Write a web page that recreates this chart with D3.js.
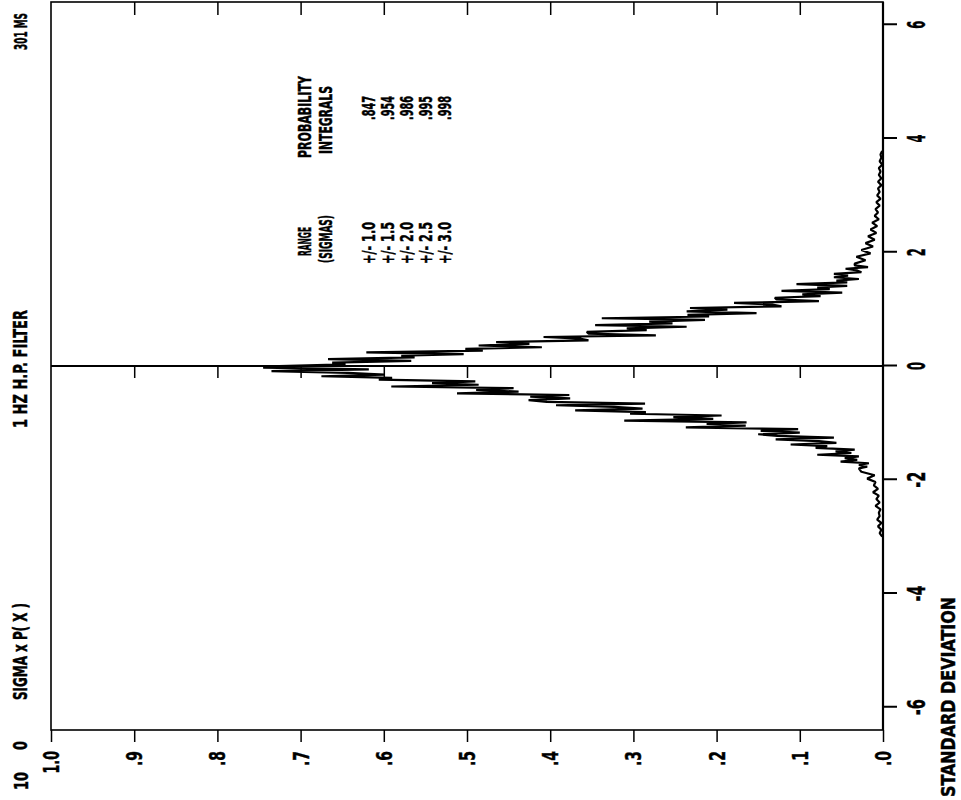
<!DOCTYPE html>
<html><head><meta charset="utf-8">
<script src="https://cdn.jsdelivr.net/npm/d3@7"></script>
<style>
body{margin:0;background:#fff}
text{font-family:"Liberation Sans Narrow","DejaVu Sans Condensed","Liberation Sans",sans-serif;font-weight:bold;fill:#000;stroke:#000;stroke-width:0.45}
</style></head>
<body><svg id="c" width="961" height="800"></svg>
<script>
// ---- data ----
const sigmaTicks = [-6, -4, -2, 0, 2, 4, 6];
const valueTicks = [0, 0.1, 0.2, 0.3, 0.4, 0.5, 0.6, 0.7, 0.8, 0.9, 1.0];
const valueTickLabels = [".0", ".1", ".2", ".3", ".4", ".5", ".6", ".7", ".8", ".9", "1.0"];
const rangeLabels = ["+/- 1.0", "+/- 1.5", "+/- 2.0", "+/- 2.5", "+/- 3.0"];
const integralLabels = [".847", ".954", ".986", ".995", ".998"];
const sigma = [
 -3.00,-2.94,-2.88,-2.82,-2.76,-2.70,-2.64,-2.58,-2.52,-2.46,-2.40,-2.34,-2.28,-2.22,-2.16,-2.10,-2.04,-1.98,-1.92,-1.86,
 -1.80,-1.77,-1.74,-1.71,-1.68,-1.65,-1.62,-1.59,-1.56,-1.53,-1.50,-1.47,-1.44,-1.41,-1.38,-1.35,-1.32,-1.29,-1.26,-1.23,
 -1.20,-1.17,-1.14,-1.11,-1.08,-1.05,-1.02,-0.99,-0.96,-0.93,-0.90,-0.87,-0.84,-0.81,-0.78,-0.75,-0.72,-0.69,-0.66,-0.63,
 -0.60,-0.57,-0.54,-0.51,-0.48,-0.45,-0.42,-0.39,-0.36,-0.33,-0.30,-0.27,-0.24,-0.21,-0.18,-0.15,-0.12,-0.09,-0.06,-0.03,
 0.00,0.03,0.06,0.09,0.12,0.15,0.18,0.21,0.24,0.27,0.30,0.33,0.36,0.39,0.42,0.45,0.48,0.51,0.54,0.57,
 0.60,0.63,0.66,0.69,0.72,0.75,0.78,0.81,0.84,0.87,0.90,0.93,0.96,0.99,1.02,1.05,1.08,1.11,1.14,1.17,
 1.20,1.23,1.26,1.29,1.32,1.35,1.38,1.41,1.44,1.47,1.50,1.53,1.56,1.59,1.62,1.65,1.68,1.71,1.74,1.77,1.80,
 1.86,1.92,1.98,2.04,2.10,2.16,2.22,2.28,2.34,2.40,2.46,2.52,2.58,2.64,2.70,2.76,2.82,2.88,2.94,3.00,
 3.06,3.12,3.18,3.24,3.30,3.36,3.42,3.48,3.54,3.60,3.66,3.72,3.78];
const density = [
 0.001,0.004,0.002,0.006,0.002,0.007,0.004,0.005,0.003,0.009,0.004,0.008,0.005,0.012,0.006,0.011,0.009,0.019,0.010,0.026,
 0.029,0.019,0.029,0.017,0.051,0.031,0.046,0.029,0.079,0.038,0.057,0.034,0.081,0.067,0.111,0.056,0.077,0.129,0.059,0.127,
 0.150,0.100,0.147,0.102,0.237,0.165,0.212,0.164,0.311,0.204,0.252,0.194,0.304,0.285,0.370,0.289,0.323,0.393,0.286,0.404,
 0.426,0.376,0.424,0.377,0.512,0.438,0.489,0.444,0.591,0.486,0.542,0.490,0.606,0.590,0.675,0.599,0.643,0.735,0.618,0.745,
 0.726,0.646,0.662,0.567,0.667,0.563,0.579,0.504,0.621,0.481,0.502,0.410,0.486,0.425,0.465,0.354,0.363,0.408,0.273,0.354,
 0.356,0.284,0.308,0.236,0.346,0.253,0.281,0.214,0.338,0.209,0.235,0.152,0.236,0.187,0.232,0.122,0.133,0.179,0.077,0.128,
 0.130,0.075,0.097,0.049,0.122,0.064,0.079,0.043,0.104,0.043,0.056,0.029,0.059,0.042,0.059,0.026,0.031,0.045,0.018,0.034,0.034,
 0.021,0.032,0.015,0.026,0.012,0.021,0.010,0.018,0.008,0.015,0.007,0.013,0.005,0.010,0.006,0.009,0.004,0.008,0.003,0.007,
 0.004,0.006,0.002,0.006,0.002,0.005,0.003,0.005,0.001,0.004,0.002,0.003,0.001];

// ---- layout ----
const svg = d3.select("#c");
const W = 728, H = 832;           // unrotated plot frame
const g = svg.append("g").attr("transform", "translate(51,730) rotate(-90)");
const x = d3.scaleLinear().domain([-6.4, 6.4]).range([0, W]);
const y = d3.scaleLinear().domain([0, 1]).range([H, 0]);
const ink = "#000";

// frame
g.append("rect").attr("x", 0).attr("y", 0).attr("width", W).attr("height", H)
  .attr("fill", "none").attr("stroke", ink).attr("stroke-width", 1.6);
g.append("line").attr("x1", 0).attr("x2", W).attr("y1", H).attr("y2", H)
  .attr("stroke", ink).attr("stroke-width", 2.2);

// sigma axis (right side of picture)
const ax = g.append("g").attr("transform", `translate(0,${H})`)
  .call(d3.axisBottom(x).tickValues(sigmaTicks).tickSize(14).tickSizeOuter(0).tickFormat(d => ""));
ax.select(".domain").remove();
ax.selectAll("line").attr("stroke", ink).attr("stroke-width", 2);

// value axis (bottom of picture)
const ay = g.append("g")
  .call(d3.axisLeft(y).tickValues(valueTicks).tickSize(12).tickSizeOuter(0).tickFormat(d => ""));
ay.select(".domain").remove();
ay.selectAll("line").attr("stroke", ink).attr("stroke-width", 1.5);

// inner ticks on the far edge (top of picture)
const ar = g.append("g").attr("transform", `translate(${W},0)`)
  .call(d3.axisLeft(y).tickValues(valueTicks.slice(1, 10)).tickSize(13).tickSizeOuter(0).tickFormat(d => ""));
ar.select(".domain").remove();
ar.selectAll("line").attr("stroke", ink).attr("stroke-width", 1.5);

// zero line with ticks
g.append("line").attr("x1", x(0)).attr("x2", x(0)).attr("y1", 0).attr("y2", H)
  .attr("stroke", ink).attr("stroke-width", 2);
const az = g.append("g").attr("transform", `translate(${x(0)},0)`)
  .call(d3.axisLeft(y).tickValues(valueTicks.slice(1, 10)).tickSize(12).tickSizeOuter(0).tickFormat(d => ""));
az.select(".domain").remove();
az.selectAll("line").attr("stroke", ink).attr("stroke-width", 1.5);

// data
const pts = sigma.map((s, i) => [s, density[i]]);
g.append("path").datum(pts)
  .attr("d", d3.line().x(d => x(d[0])).y(d => y(d[1])))
  .attr("fill", "none").attr("stroke", ink).attr("stroke-width", 2.2).attr("stroke-linejoin", "bevel");

// text helper in unrotated frame: (ux, uy baseline), font size, length
function txt(s, ux, uy, size, len, anchor) {
  const t = g.append("text").attr("x", ux).attr("y", uy).attr("font-size", size).text(s);
  if (len) t.attr("textLength", len).attr("lengthAdjust", "spacingAndGlyphs");
  if (anchor) t.attr("text-anchor", anchor);
  return t;
}
// condensed text by scaling, so its box is its real ink extent
function txtScaled(s, ux, uy, size, len) {
  const t = g.append("text").attr("x", 0).attr("y", 0).attr("font-size", size).text(s);
  const natural = t.node().getComputedTextLength();
  t.attr("transform", `translate(${ux},${uy}) scale(${len / natural},1)`);
  return t;
}

// sigma tick labels
sigmaTicks.forEach(d => {
  const s = String(d);
  const len = s.length * 8;
  txt(s, x(d) - len / 2, H + 42, 24, len);
});
// value tick labels
valueTicks.forEach((v, i) => {
  const s = valueTickLabels[i];
  const len = s.length * 7.5;
  txt(s, -21 - len, y(v) + 8, 22, len);
});

// titles along the left side of the picture
txtScaled("301 MS", 730 - 50, -24, 18, 37);
txt("1 HZ H.P. FILTER", 730 - 428, -24, 19, 118);
txt("SIGMA x P( X )", 730 - 700, -24, 19, 97);
txt("0", 730 - 750, -24, 19, 9);
txt("10", 730 - 790, -23, 19, 18);
txt("STANDARD DEVIATION", 730 - 797, 955 - 51, 19, 200);

// legend
txt("RANGE", 730 - 256, 311 - 51, 17, 29);
txt("(SIGMAS)", 730 - 263, 332 - 51, 17, 48);
txt("PROBABILITY", 730 - 158, 311 - 51, 17, 82);
txt("INTEGRALS", 730 - 154, 332 - 51, 17, 68);
rangeLabels.forEach((s, i) => txt(s, 730 - 264, 375 - 51 + i * 19, 17, 42));
integralLabels.forEach((s, i) => txt(s, 730 - 120, 375 - 51 + i * 19, 17, 24));
</script></body></html>
